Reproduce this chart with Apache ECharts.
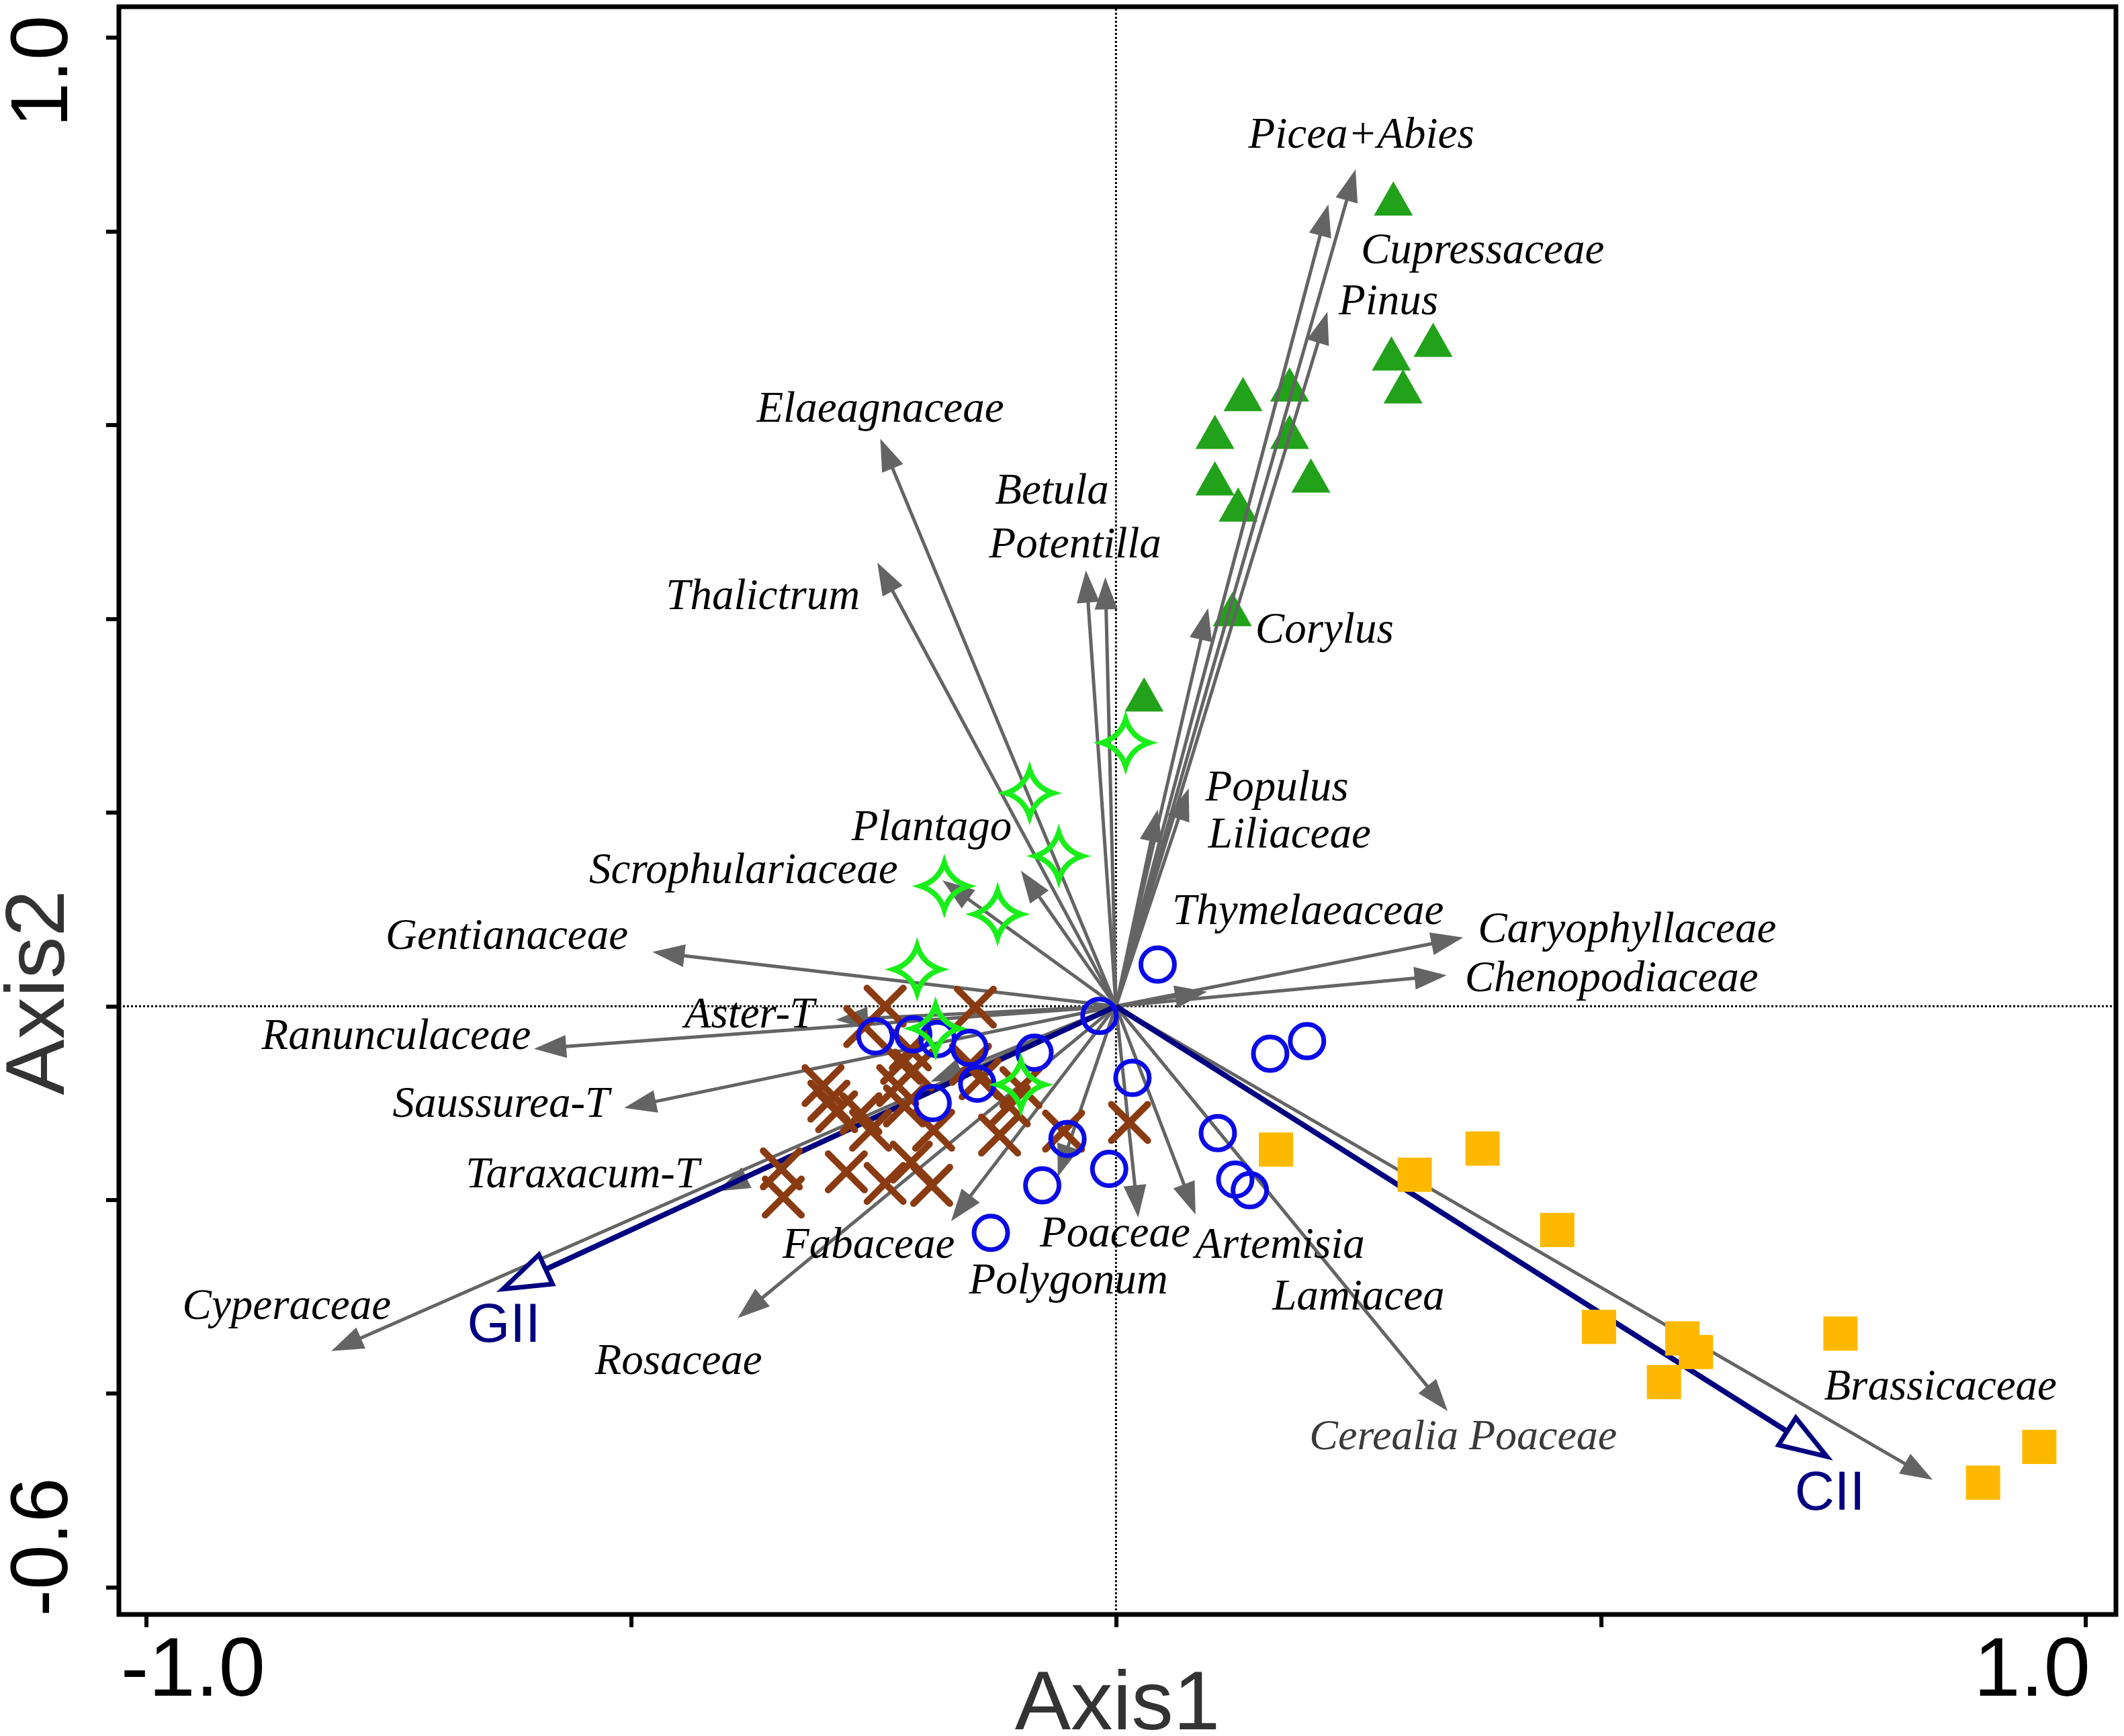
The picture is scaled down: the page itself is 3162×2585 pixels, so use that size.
<!DOCTYPE html>
<html>
<head>
<meta charset="UTF-8">
<title>RDA biplot</title>
<script src="https://cdn.jsdelivr.net/npm/echarts@6/dist/echarts.min.js"></script>
<style>
  html, body { margin: 0; padding: 0; background: #fff; }
  #main { width: 3162px; height: 2585px; }
</style>
</head>
<body>
<div id="main"></div>
<script>
// axis extents and ticks
var X_MIN = -1.028, X_MAX = 1.031;
var Y_MIN = -0.628, Y_MAX = 1.032;
var xTicks = [-1, -0.5, 0, 0.5, 1];
var xTickLabels = [-1, 1];
var yTicks = [-0.6, -0.4, -0.2, 0, 0.2, 0.4, 0.6, 0.8, 1.0];
var yTickLabels = [-0.6, 1.0];

// taxa vectors (arrow tips, origin at 0,0)
var arrowNames = ['Picea+Abies', 'Cupressaceae', 'Pinus', 'Elaeagnaceae', 'Thalictrum', 'Betula',
  'Potentilla', 'Corylus', 'Populus', 'Liliaceae', 'Plantago', 'Scrophulariaceae', 'Gentianaceae',
  'Thymelaeaceae', 'Caryophyllaceae', 'Chenopodiaceae', 'Aster-T', 'Ranunculaceae', 'Saussurea-T',
  'Taraxacum-T', 'Cyperaceae', '', 'Fabaceae', 'Rosaceae', 'Polygonum', 'Poaceae', 'Artemisia',
  'Cerealia Poaceae', 'Brassicaceae'];
var arrowX = [0.247, 0.219, 0.218, -0.243, -0.246, -0.031, -0.011, 0.095, 0.075, 0.043, -0.098, -0.179,
  -0.478, 0.094, 0.358, 0.341, -0.289, -0.600, -0.507, -0.411, -0.809, -0.191, -0.170, -0.390, -0.060,
  0.023, 0.082, 0.342, 0.842];
var arrowY = [0.864, 0.828, 0.717, 0.586, 0.458, 0.450, 0.443, 0.411, 0.225, 0.203, 0.140, 0.130,
  0.056, 0.015, 0.071, 0.032, -0.014, -0.044, -0.105, -0.191, -0.356, -0.078, -0.222, -0.322, -0.176,
  -0.218, -0.215, -0.418, -0.489];

// environmental vectors
var envNames = ['GII', 'CII'];
var envX = [-0.632, 0.733];
var envY = [-0.292, -0.465];
var envLabelX = [-0.631, 0.736];
var envLabelY = [-0.331, -0.504];

// taxa label anchors
var labelNames = ['Picea+Abies', 'Cupressaceae', 'Pinus', 'Elaeagnaceae', 'Betula', 'Potentilla',
  'Thalictrum', 'Corylus', 'Populus', 'Liliaceae', 'Plantago', 'Scrophulariaceae', 'Thymelaeaceae',
  'Gentianaceae', 'Caryophyllaceae', 'Chenopodiaceae', 'Aster-T', 'Ranunculaceae', 'Saussurea-T',
  'Taraxacum-T', 'Cyperaceae', 'Fabaceae', 'Poaceae', 'Artemisia', 'Polygonum', 'Lamiacea',
  'Rosaceae', 'Cerealia Poaceae', 'Brassicaceae'];
var labelX = [0.253, 0.378, 0.281, -0.243, -0.066, -0.042, -0.364, 0.215, 0.166, 0.179, -0.190, -0.384,
  0.198, -0.628, 0.527, 0.511, -0.378, -0.742, -0.634, -0.550, -0.855, -0.255, -0.001, 0.169, -0.049,
  0.250, -0.451, 0.358, 0.850];
var labelY = [0.898, 0.779, 0.726, 0.615, 0.531, 0.475, 0.422, 0.387, 0.224, 0.176, 0.183, 0.139,
  0.097, 0.071, 0.078, 0.027, -0.010, -0.032, -0.102, -0.175, -0.311, -0.248, -0.236, -0.248, -0.285,
  -0.301, -0.368, -0.446, -0.394];

// samples
var triX = [0.286, 0.327, 0.284, 0.296, 0.131, 0.179, 0.102, 0.179, 0.102, 0.201, 0.126, 0.120, 0.029];
var triY = [0.834, 0.688, 0.674, 0.640, 0.632, 0.642, 0.593, 0.593, 0.545, 0.548, 0.518, 0.410, 0.322];

var sqX = [0.165, 0.308, 0.378, 0.455, 0.498, 0.584, 0.598, 0.565, 0.747, 0.894, 0.952];
var sqY = [-0.148, -0.174, -0.147, -0.231, -0.331, -0.343, -0.357, -0.388, -0.338, -0.492, -0.455];

var circX = [0.043, -0.017, 0.159, 0.197, 0.017, 0.105, 0.123, 0.138, -0.050, -0.007, -0.076, -0.129,
  -0.084, -0.248, -0.209, -0.184, -0.151, -0.143, -0.189];
var circY = [0.043, -0.010, -0.049, -0.036, -0.074, -0.131, -0.179, -0.190, -0.137, -0.168, -0.185, -0.234,
  -0.048, -0.031, -0.029, -0.034, -0.043, -0.080, -0.100];

var starX = [0.010, -0.089, -0.059, -0.177, -0.122, -0.205, -0.186, -0.098];
var starY = [0.272, 0.220, 0.155, 0.124, 0.095, 0.038, -0.023, -0.081];

var crossX = [-0.238, -0.145, -0.259, -0.221, -0.209, -0.212, -0.225, -0.302, -0.296, -0.288, -0.263,
  -0.253, -0.218, -0.188, -0.140, -0.150, -0.110, -0.120, -0.098, -0.278, -0.238, -0.211, -0.190,
  -0.345, -0.343, -0.054, 0.014];
var crossY = [0.000, -0.001, -0.021, -0.059, -0.066, -0.045, -0.082, -0.082, -0.098, -0.109, -0.111,
  -0.128, -0.103, -0.128, -0.075, -0.060, -0.103, -0.133, -0.084, -0.171, -0.183, -0.161, -0.185,
  -0.168, -0.197, -0.129, -0.120];

function zip(xs, ys) {
  return xs.map(function (x, i) { return [x, ys[i]]; });
}

var GREY = '#646464';
var NAVY = '#000080';
var SERIF = 'Liberation Serif, Times New Roman, serif';
var SANS = 'Liberation Sans, Arial, sans-serif';

function arrowRenderer(headLen, headHalf, open) {
  return function (params, api) {
    var o = api.coord([0, 0]);
    var t = api.coord([api.value(0), api.value(1)]);
    var dx = t[0] - o[0], dy = t[1] - o[1];
    var len = Math.sqrt(dx * dx + dy * dy);
    var ux = dx / len, uy = dy / len;
    var bx = t[0] - ux * headLen, by = t[1] - uy * headLen;
    var nx = -uy, ny = ux;
    var pts = [[t[0], t[1]], [bx + nx * headHalf, by + ny * headHalf], [bx - nx * headHalf, by - ny * headHalf]];
    if (open) {
      return {
        type: 'group',
        children: [
          { type: 'line', shape: { x1: o[0], y1: o[1], x2: bx, y2: by },
            style: { stroke: NAVY, lineWidth: 8 } },
          { type: 'polygon', shape: { points: pts },
            style: { fill: '#fff', stroke: NAVY, lineWidth: 7, lineJoin: 'miter' } }
        ]
      };
    }
    return {
      type: 'group',
      children: [
        { type: 'line', shape: { x1: o[0], y1: o[1], x2: bx + ux * 4, y2: by + uy * 4 },
          style: { stroke: GREY, lineWidth: 5 } },
        { type: 'polygon', shape: { points: pts }, style: { fill: GREY } }
      ]
    };
  };
}

var chart = echarts.init(document.getElementById('main'));

var option = {
  animation: false,
  backgroundColor: '#fff',
  grid: {
    left: 177, right: 12, top: 10, bottom: 181,
    containLabel: false, outerBoundsMode: 'none',
    show: true, borderColor: '#000', borderWidth: 7, backgroundColor: '#fff'
  },
  xAxis: {
    type: 'value', min: X_MIN, max: X_MAX,
    name: 'Axis1', nameLocation: 'middle', nameGap: 74, nameMoveOverlap: false,
    nameTextStyle: { fontSize: 125, color: '#333', fontFamily: SANS },
    axisLine: { show: false, onZero: false },
    splitLine: { show: false },
    axisTick: { show: true, inside: false, length: 19, customValues: xTicks,
      lineStyle: { color: '#000', width: 6 } },
    axisLabel: {
      customValues: xTickLabels, margin: 24, color: '#000',
      formatter: function (v) { return v < 0 ? '{l|' + v.toFixed(1) + '}' : '{r|' + v.toFixed(1) + '}'; },
      rich: {
        l: { fontSize: 125, fontFamily: SANS, color: '#000', padding: [0, 0, 0, 140] },
        r: { fontSize: 125, fontFamily: SANS, color: '#000', padding: [0, 160, 0, 0] }
      }
    }
  },
  yAxis: {
    type: 'value', min: Y_MIN, max: Y_MAX,
    name: 'Axis2', nameLocation: 'middle', nameGap: 54, nameMoveOverlap: false,
    nameTextStyle: { fontSize: 125, color: '#333', fontFamily: SANS, padding: [0, 542, 0, 0] },
    axisLine: { show: false, onZero: false },
    splitLine: { show: false },
    axisTick: { show: true, inside: false, length: 19, customValues: yTicks,
      lineStyle: { color: '#000', width: 6 } },
    axisLabel: {
      customValues: yTickLabels, margin: 50, rotate: 90, color: '#000',
      formatter: function (v) { return v > 0 ? '{t|' + v.toFixed(1) + '}' : '{b|' + v.toFixed(1) + '}'; },
      rich: {
        t: { fontSize: 120, fontFamily: SANS, color: '#000', padding: [0, 100, 0, 0] },
        b: { fontSize: 120, fontFamily: SANS, color: '#000', padding: [0, 0, 0, 120] }
      }
    }
  },
  series: [
    {
      type: 'line', z: 1, silent: true, showSymbol: false,
      data: [[0, Y_MIN], [0, Y_MAX]],
      lineStyle: { color: '#000', width: 3, type: 'dotted' }
    },
    {
      type: 'line', z: 1, silent: true, showSymbol: false,
      data: [[X_MIN, 0], [X_MAX, 0]],
      lineStyle: { color: '#000', width: 3, type: 'dotted' }
    },
    {
      type: 'scatter', z: 2, name: 'triangles',
      symbol: 'triangle', symbolSize: [58, 51],
      itemStyle: { color: '#22a11b', opacity: 1 },
      data: zip(triX, triY)
    },
    {
      type: 'custom', z: 3, name: 'taxa',
      renderItem: arrowRenderer(48, 17, false),
      data: zip(arrowX, arrowY)
    },
    {
      type: 'custom', z: 3, name: 'env',
      renderItem: arrowRenderer(70, 24, true),
      data: zip(envX, envY)
    },
    {
      type: 'scatter', z: 4, name: 'crosses',
      symbol: 'path://M0,0L10,10M10,0L0,10', symbolSize: 54,
      itemStyle: { color: 'rgba(0,0,0,0)', borderColor: '#8a3b12', borderWidth: 10, borderCap: 'round', opacity: 1 },
      data: zip(crossX, crossY)
    },
    {
      type: 'scatter', z: 4, name: 'circles',
      symbol: 'circle', symbolSize: 50,
      itemStyle: { color: 'rgba(0,0,0,0)', borderColor: '#0b0be6', borderWidth: 7, opacity: 1 },
      data: zip(circX, circY)
    },
    {
      type: 'scatter', z: 4, name: 'stars',
      symbol: 'path://M0,-10 Q2.4,-2.4 10,0 Q2.4,2.4 0,10 Q-2.4,2.4 -10,0 Q-2.4,-2.4 0,-10 Z',
      symbolSize: 70,
      itemStyle: { color: 'rgba(0,0,0,0)', borderColor: '#1aee1a', borderWidth: 8, opacity: 1 },
      data: zip(starX, starY)
    },
    {
      type: 'scatter', z: 4, name: 'squares',
      symbol: 'rect', symbolSize: 51,
      itemStyle: { color: '#fdb900', opacity: 1 },
      data: zip(sqX, sqY)
    },
    {
      type: 'custom', z: 5, name: 'labels', silent: true,
      renderItem: function (params, api) {
        var p = api.coord([api.value(0), api.value(1)]);
        var name = labelNames[params.dataIndex];
        var cereal = name === 'Cerealia Poaceae';
        return {
          type: 'text', x: p[0], y: p[1],
          style: {
            text: name, fill: cereal ? '#3a3a3a' : '#000',
            fontSize: cereal ? 64 : 65, fontStyle: 'italic', fontFamily: SERIF,
            align: 'center', verticalAlign: 'middle'
          }
        };
      },
      data: zip(labelX, labelY)
    },
    {
      type: 'custom', z: 5, name: 'envLabels', silent: true,
      renderItem: function (params, api) {
        var p = api.coord([api.value(0), api.value(1)]);
        return {
          type: 'text', x: p[0], y: p[1],
          style: {
            text: envNames[params.dataIndex], fill: NAVY,
            fontSize: 82, fontFamily: SANS,
            align: 'center', verticalAlign: 'middle'
          }
        };
      },
      data: zip(envLabelX, envLabelY)
    }
  ]
};

chart.setOption(option);
</script>
</body>
</html>
